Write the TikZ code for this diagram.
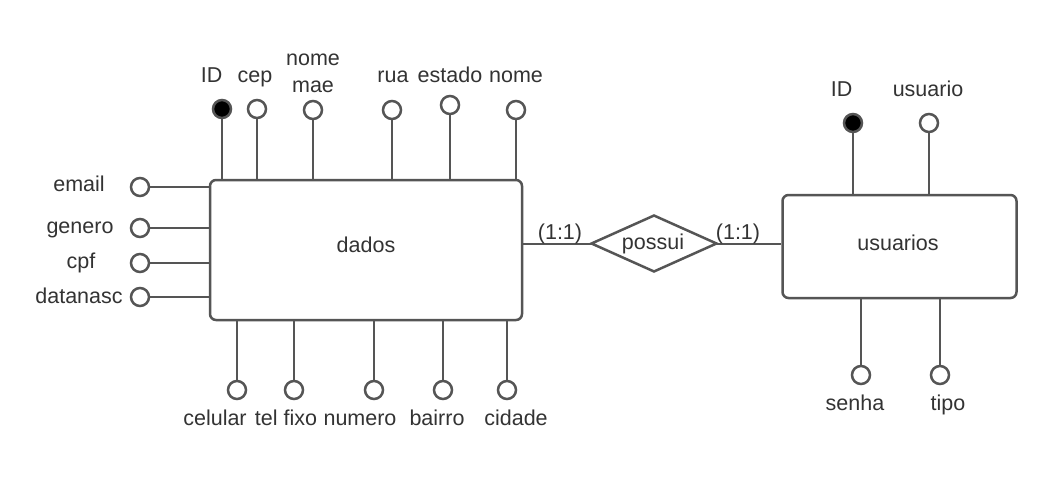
\documentclass[tikz,border=0pt]{standalone}
\usepackage{fontspec}
\setmainfont{Liberation Sans}
\usetikzlibrary{shapes.geometric}
\definecolor{ln}{HTML}{555555}
\definecolor{tx}{HTML}{333333}
\begin{document}
\begin{tikzpicture}[x=1pt,y=-1pt,
  every node/.style={text=tx,font=\fontsize{21.5}{24}\selectfont},
  entity/.style={draw=ln,line width=2.5pt,rounded corners=6pt,fill=white,inner sep=0pt},
  attr/.style={draw=ln,line width=2.5pt,circle,minimum size=18pt,inner sep=0pt,fill=white},
  key/.style={attr,fill=black},
  lbl/.style={anchor=base,inner sep=0pt},
  conn/.style={draw=ln,line width=2.6pt},
  rel/.style={draw=ln,line width=2.5pt,diamond,aspect=2.2,minimum width=126pt,minimum height=57pt,inner sep=0pt,fill=white}]
\useasboundingbox (0,0) rectangle (1044,492);
\fill[white] (0,0) rectangle (1044,492);
% entities
\node[entity,minimum width=312pt,minimum height=140pt] (dados) at (366,250) {};
\node[lbl] (tdados) at (366,252) {dados};
\node[entity,minimum width=234pt,minimum height=103pt] (usuarios) at (899.5,246.5) {};
\node[lbl] (tusuarios) at (898,250) {usuarios};
% relationship connectors
\coordinate (pl) at (592,244);
\coordinate (pr) at (717,244);
\draw[conn] (dados.east |- pl) -- (pl);
\draw[conn] (pr) -- (usuarios.west |- pr);
\node[rel] (possui) at (654,243.5) {};
\node[lbl] (tpossui) at (653,249) {possui};
\node[lbl] (c1) at (560,239) {(1:1)};
\node[lbl] (c2) at (738,239) {(1:1)};
% top attributes of dados
\foreach \n/\x/\y/\s in {aid/222/109/key, acep/257/109/attr, anm/313/110/attr, arua/392/110/attr, aest/450/105/attr, anome/516/110/attr}{
  \draw[conn] (\x,\y) -- (dados.north -| {(\x,\y)});
  \node[\s] (\n) at (\x,\y) {};
}
\node[lbl] (lid) at (211.7,83) {ID};
\node[lbl] (lcep) at (255,83) {cep};
\node[lbl] (lnm1) at (313,66) {nome};
\node[lbl] (lnm2) at (313,93) {mae};
\node[lbl] (lrua) at (393,83) {rua};
\node[lbl] (lest) at (450,83) {estado};
\node[lbl] (lnome) at (516,83) {nome};
% left attributes
\foreach \n/\y in {aemail/187, agen/228, acpf/263, adn/297}{
  \draw[conn] (140,\y) -- (dados.west |- {(140,\y)});
  \node[attr] (\n) at (140,\y) {};
}
\node[lbl] (lemail) at (79,191.5) {email};
\node[lbl] (lgen) at (80,233) {genero};
\node[lbl] (lcpf) at (81,268) {cpf};
\node[lbl] (ldn) at (79,303) {datanasc};
% bottom attributes
\foreach \n/\x in {acel/237, atel/294, anum/374, abai/443, acid/507}{
  \draw[conn] (\x,390) -- (dados.south -| {(\x,390)});
  \node[attr] (\n) at (\x,390) {};
}
\node[lbl] (lcel) at (215,425) {celular};
\node[lbl] (ltel) at (286,425) {tel fixo};
\node[lbl] (lnum) at (360,425) {numero};
\node[lbl] (lbai) at (437,425) {bairro};
\node[lbl] (lcid) at (516,425) {cidade};
% usuarios attributes
\draw[conn] (853,123) -- (usuarios.north -| {(853,123)});
\node[key] (uid) at (853,123) {};
\draw[conn] (929,123) -- (usuarios.north -| {(929,123)});
\node[attr] (uusr) at (929,123) {};
\draw[conn] (861,375) -- (usuarios.south -| {(861,375)});
\node[attr] (usen) at (861,375) {};
\draw[conn] (940,375) -- (usuarios.south -| {(940,375)});
\node[attr] (utip) at (940,375) {};
\node[lbl] (luid) at (841.7,97) {ID};
\node[lbl] (luusr) at (928,97) {usuario};
\node[lbl] (lusen) at (855,410) {senha};
\node[lbl] (lutip) at (948,410) {tipo};
\end{tikzpicture}
\end{document}
